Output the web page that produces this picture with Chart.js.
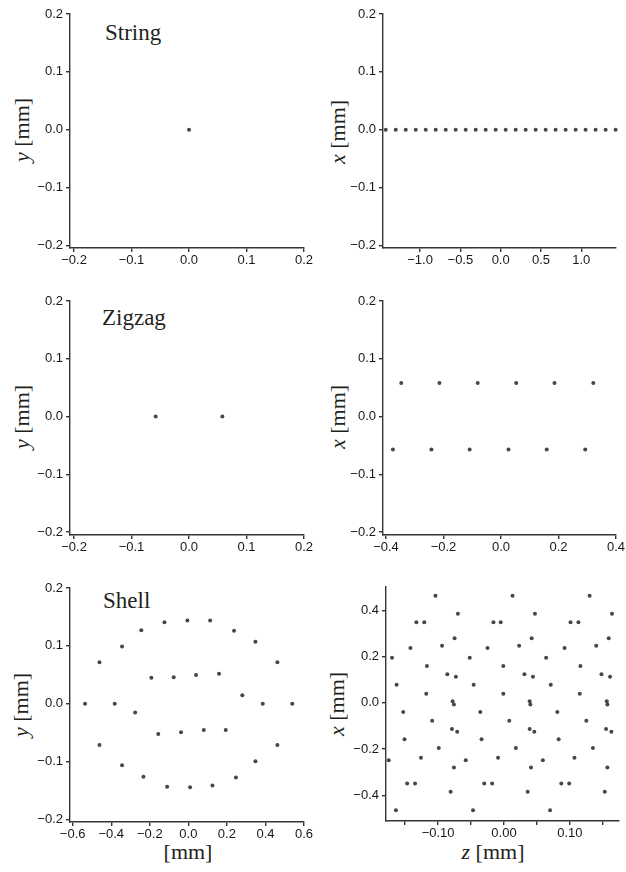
<!DOCTYPE html>
<html>
<head>
<meta charset="utf-8">
<script src="https://cdn.jsdelivr.net/npm/chart.js@4"></script>
<style>
    html, body { margin: 0; padding: 0; background: #fff; }
    body { position: relative; width: 626px; height: 872px; overflow: hidden; }
    .panel { position: absolute; }
    .label { position: absolute; font-family: "Liberation Serif", "Times New Roman", serif; color: #231f20; white-space: nowrap; line-height: normal; }
    .ytitle { font-size: 22px; transform: translate(-50%, -50%) rotate(-90deg); }
    .xtitle { font-size: 22px; transform: translate(-50%, -50%); }
    .ptitle { font-size: 23px; }
</style>
</head>
<body>

<div class="label ptitle" style="left:105px; top:19.5px;">String</div>
<div class="label ptitle" style="left:102px; top:304.5px;">Zigzag</div>
<div class="label ptitle" style="left:103px; top:587.8px;">Shell</div>

<div class="label ytitle" style="left:22px; top:130px;"><i>y</i> [mm]</div>
<div class="label ytitle" style="left:338px; top:132px;"><i>x</i> [mm]</div>
<div class="label ytitle" style="left:22px; top:417px;"><i>y</i> [mm]</div>
<div class="label ytitle" style="left:338px; top:417px;"><i>x</i> [mm]</div>
<div class="label ytitle" style="left:21px; top:705px;"><i>y</i> [mm]</div>
<div class="label ytitle" style="left:337px; top:704px;"><i>x</i> [mm]</div>

<div class="label xtitle" style="left:188px; top:852px;">[mm]</div>
<div class="label xtitle" style="left:493px; top:852px;"><i>z</i> [mm]</div>

<script>
// String: cross-section (one ion) and axial view
const stringCrossX = [0.0];
const stringCrossY = [0.0];
const stringAxialZ = [-1.426, -1.302, -1.178, -1.054, -0.930, -0.806, -0.682, -0.558, -0.434, -0.310, -0.186, -0.062,
                      0.062, 0.186, 0.310, 0.434, 0.558, 0.682, 0.806, 0.930, 1.054, 1.178, 1.302, 1.426];
const stringAxialX = [0, 0, 0, 0, 0, 0, 0, 0, 0, 0, 0, 0, 0, 0, 0, 0, 0, 0, 0, 0, 0, 0, 0, 0];

// Zigzag
const zigzagCrossX = [-0.058, 0.058];
const zigzagCrossY = [0.0, 0.0];
const zigzagAxialZ = [-0.376, -0.347, -0.242, -0.214, -0.109, -0.081, 0.026, 0.053, 0.159, 0.186, 0.293, 0.321];
const zigzagAxialX = [-0.057, 0.058, -0.057, 0.058, -0.057, 0.058, -0.057, 0.058, -0.057, 0.058, -0.057, 0.058];

// Shell: outer ring then inner ring
const shellCrossX = [-0.536, -0.461, -0.344, -0.244, -0.124, -0.005, 0.113, 0.237, 0.348, 0.462,
                     0.539, 0.462, 0.348, 0.247, 0.125, 0.009, -0.110, -0.233, -0.344, -0.461,
                     -0.382, -0.276, -0.156, -0.038, 0.080, 0.194, 0.280, 0.386, 0.159, 0.040, -0.076, -0.192];
const shellCrossY = [0.000, 0.072, 0.099, 0.127, 0.141, 0.144, 0.144, 0.126, 0.107, 0.072,
                     0.000, -0.071, -0.099, -0.127, -0.141, -0.144, -0.143, -0.126, -0.106, -0.071,
                     0.000, -0.015, -0.052, -0.049, -0.045, -0.045, 0.015, 0.000, 0.052, 0.050, 0.046, 0.045];

const shellAxialZ = [-0.104, -0.070, -0.133, -0.121, -0.016, -0.005, -0.075, -0.142, -0.094, -0.025, -0.170, -0.052, -0.117, -0.001, -0.086, -0.073, -0.163, -0.046, -0.118, -0.001, -0.078,
                     0.013, 0.130, 0.047, 0.164, 0.101, 0.113, 0.042, 0.159, 0.023, 0.140, 0.092, 0.064, 0.116, 0.031, 0.044, 0.148, 0.161, 0.071, 0.115, 0.039, 0.156,
                     -0.076, -0.153, -0.036, -0.109, -0.079, -0.071, -0.151, -0.034, -0.099, -0.175, -0.126, -0.058, -0.009, -0.076, -0.147, -0.135, -0.030, -0.018, -0.081, -0.164, -0.047,
                     0.040, 0.157, 0.008, 0.081, 0.125, 0.039, 0.046, 0.155, 0.163, 0.083, 0.018, 0.135, 0.059, 0.107, 0.041, 0.157, 0.087, 0.099, 0.036, 0.153, 0.070];
const shellAxialX = [0.463, 0.385, 0.348, 0.348, 0.348, 0.348, 0.279, 0.237, 0.247, 0.237, 0.195, 0.195, 0.159, 0.159, 0.124, 0.113, 0.078, 0.078, 0.039, 0.039, 0.007,
                     0.463, 0.463, 0.385, 0.385, 0.348, 0.348, 0.279, 0.279, 0.247, 0.247, 0.237, 0.195, 0.159, 0.124, 0.113, 0.124, 0.113, 0.078, 0.039, 0.007, 0.007,
                     -0.007, -0.040, -0.040, -0.078, -0.113, -0.125, -0.157, -0.157, -0.195, -0.248, -0.238, -0.248, -0.238, -0.280, -0.349, -0.349, -0.349, -0.349, -0.385, -0.464, -0.464,
                     -0.007, -0.007, -0.078, -0.040, -0.078, -0.113, -0.125, -0.113, -0.125, -0.157, -0.195, -0.195, -0.248, -0.238, -0.280, -0.280, -0.349, -0.349, -0.385, -0.385, -0.464];

// tick values
const ticksRadial02 = [-0.2, -0.1, 0.0, 0.1, 0.2];
const ticksStringZ = [-1.0, -0.5, 0.0, 0.5, 1.0];
const ticksZigzagZ = [-0.4, -0.2, 0.0, 0.2, 0.4];
const ticksShellCross = [-0.6, -0.4, -0.2, 0.0, 0.2, 0.4, 0.6];
const ticksShellZ = [-0.15, -0.10, -0.05, 0.0, 0.05, 0.10, 0.15];
const ticksShellX = [-0.4, -0.2, 0.0, 0.2, 0.4];

const AXIS_COLOR = '#3a3230';
const TEXT_COLOR = '#1a1718';
const DOT_COLOR = '#47474a';

function fmt(v, digits) {
    const s = Math.abs(v).toFixed(digits);
    return (v < -1e-9 ? '\u2212' : '') + s;
}

function axisOptions(range, tickValues, label, isX) {
    return {
        type: 'linear',
        bounds: 'data',
        min: range[0],
        max: range[1],
        afterBuildTicks: (scale) => {
            scale.ticks = tickValues.map(v => ({ value: v }));
        },
        afterFit: (scale) => {
            if (isX) scale.height = 30;
            else scale.width = 40;
        },
        grid: {
            drawOnChartArea: false,
            drawTicks: true,
            tickLength: 4,
            color: AXIS_COLOR,
            lineWidth: 1.4
        },
        border: { display: true, color: AXIS_COLOR, width: 1.4 },
        ticks: {
            autoSkip: false,
            maxRotation: 0,
            padding: isX ? 1 : 3,
            color: TEXT_COLOR,
            font: { family: '"Liberation Sans", Arial, sans-serif', size: 13 },
            callback: label
        }
    };
}

// box = chart area in page pixels
function makePanel(box, xs, ys, xRange, yRange, xTicks, yTicks, xLabel, yLabel) {
    const w = (box.right - box.left) + 100;
    const h = (box.bottom - box.top) + 80;
    const wrap = document.createElement('div');
    wrap.className = 'panel';
    wrap.style.left = (box.left - 60) + 'px';
    wrap.style.top = (box.top - 30) + 'px';
    const canvas = document.createElement('canvas');
    canvas.width = w;
    canvas.height = h;
    canvas.style.width = w + 'px';
    canvas.style.height = h + 'px';
    wrap.appendChild(canvas);
    document.body.appendChild(wrap);

    const points = xs.map((x, i) => ({ x: x, y: ys[i] }));

    return new Chart(canvas.getContext('2d'), {
        type: 'scatter',
        data: {
            datasets: [{
                data: points,
                backgroundColor: DOT_COLOR,
                borderWidth: 0,
                pointRadius: 2,
                clip: false
            }]
        },
        options: {
            responsive: false,
            animation: false,
            devicePixelRatio: 1,
            layout: { padding: { left: 20, top: 30, right: 40, bottom: 20 } },
            plugins: {
                legend: { display: false },
                tooltip: { enabled: false }
            },
            scales: {
                x: axisOptions(xRange, xTicks, xLabel, true),
                y: axisOptions(yRange, yTicks, yLabel, false)
            }
        }
    });
}

const one = v => fmt(v, 1);
const shellZLabel = v => (Math.abs(Math.round(v * 100)) % 10 === 0 ? fmt(v, 2) : '');

makePanel({ left: 70, right: 304, top: 14, bottom: 248 }, stringCrossX, stringCrossY,
    [-0.207, 0.2], [-0.204, 0.2], ticksRadial02, ticksRadial02, one, one);
makePanel({ left: 383, right: 616, top: 14, bottom: 248 }, stringAxialZ, stringAxialX,
    [-1.460, 1.431], [-0.204, 0.2], ticksStringZ, ticksRadial02, one, one);
makePanel({ left: 70, right: 304, top: 301, bottom: 535 }, zigzagCrossX, zigzagCrossY,
    [-0.207, 0.2], [-0.2052, 0.2], ticksRadial02, ticksRadial02, one, one);
makePanel({ left: 383, right: 616, top: 301, bottom: 535 }, zigzagAxialZ, zigzagAxialX,
    [-0.4104, 0.4], [-0.2052, 0.2], ticksZigzagZ, ticksRadial02, one, one);
makePanel({ left: 70, right: 304, top: 588, bottom: 822 }, shellCrossX, shellCrossY,
    [-0.614, 0.6], [-0.204, 0.2], ticksShellCross, ticksRadial02, one, one);
makePanel({ left: 386, right: 619, top: 587, bottom: 821 }, shellAxialZ, shellAxialX,
    [-0.1791, 0.1746], [-0.511, 0.5008], ticksShellZ, ticksShellX, shellZLabel, one);
</script>
</body>
</html>
